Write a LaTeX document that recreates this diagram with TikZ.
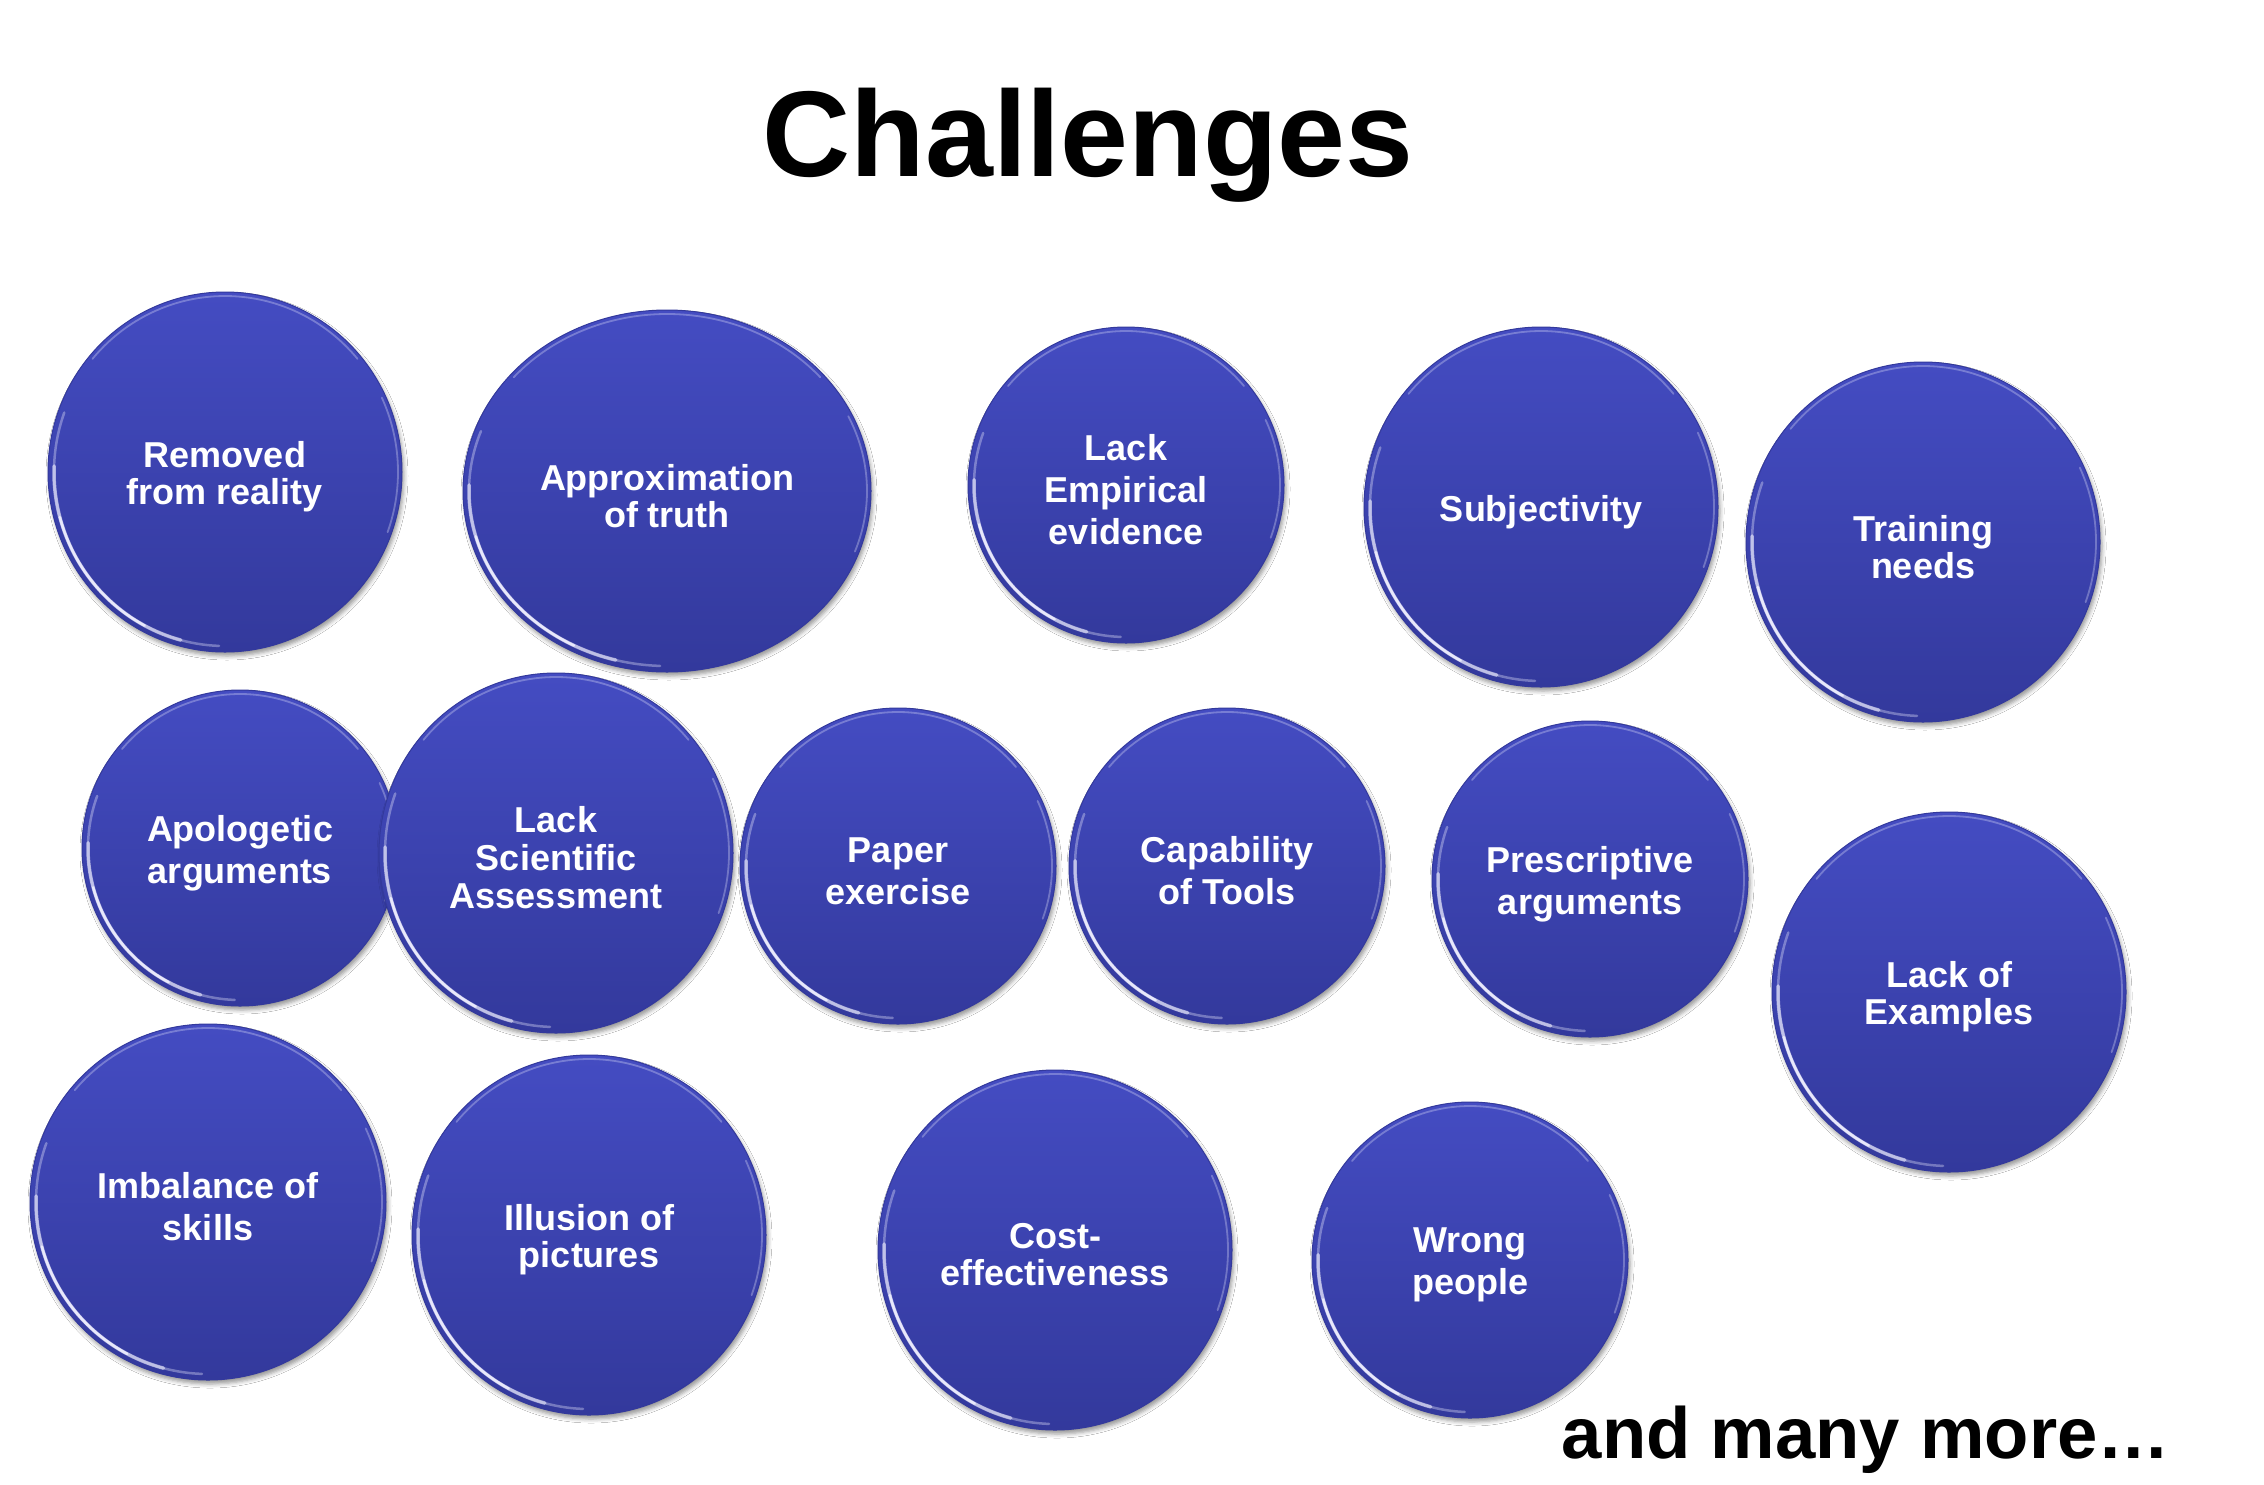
\documentclass[tikz,border=0pt]{standalone}
\usepackage{fontspec}
\setmainfont{Liberation Sans}
\usetikzlibrary{shapes.geometric,shadows.blur}
\definecolor{bubtop}{RGB}{68,76,194}
\definecolor{bubbot}{RGB}{51,57,156}
\definecolor{rimlight}{RGB}{240,240,255}
\tikzset{
  bub/.style={ellipse, inner sep=0pt, top color=bubtop, bottom color=bubbot,
    draw=bubbot, line width=1pt,
    blur shadow={shadow xshift=2pt, shadow yshift=-4pt, shadow opacity=40, shadow blur radius=4pt}},
  bubtext/.style={align=center, text=white, inner sep=0pt, font=\fontsize{36}{#1}\selectfont\bfseries},
  rim/.style={rimlight, line cap=round},
  titletext/.style={font=\fontsize{122}{146}\selectfont\bfseries, text=black, inner sep=0pt},
  moretext/.style={font=\fontsize{72.5}{80}\selectfont\bfseries, text=black, inner sep=0pt}
}
% #1 name, #2 x, #3 y, #4 rx, #5 ry, #6 line spacing, #7 text
\newcommand\challengebubble[7]{%
  \node[bub, minimum width={2*#4}, minimum height={2*#5}] (#1) at (#2,#3) {};
  \draw[rim, opacity=0.35, line width=2.5pt] (#2,#3) ++(92:{#4-6} and {#5-6}) arc[start angle=92, end angle=200, x radius={#4-6}, y radius={#5-6}];
  \draw[rim, opacity=0.6, line width=3.5pt] (#2,#3) ++(105:{#4-6} and {#5-6}) arc[start angle=105, end angle=182, x radius={#4-6}, y radius={#5-6}];
  \draw[rim, opacity=0.85, line width=2.5pt] (#2,#3) ++(118:{#4-6} and {#5-6}) arc[start angle=118, end angle=165, x radius={#4-6}, y radius={#5-6}];
  \draw[rim, opacity=0.30, line width=1.8pt] (#2,#3) ++(220:{#4-4} and {#5-4}) arc[start angle=220, end angle=320, x radius={#4-4}, y radius={#5-4}];
  \draw[rim, opacity=0.30, line width=1.8pt] (#2,#3) ++(335:{#4-4} and {#5-4}) arc[start angle=335, end angle=380, x radius={#4-4}, y radius={#5-4}];
  \node[bubtext=#6] (#1-text) at ([yshift=-5pt]#1.center) {#7};
}
\begin{document}
\begin{tikzpicture}[x=1pt,y=-1pt]
\fill[white] (0,0) rectangle (2264,1484);
\useasboundingbox (0,0) rectangle (2264,1484);

\node[titletext, anchor=base] (title) at (1088,176) {Challenges};

\challengebubble{removed}{225}{472}{177}{180}{37}{Removed\\from reality}
\challengebubble{approx}{667}{491}{204}{181}{37}{Approximation\\of truth}
\challengebubble{empirical}{1126}{485}{158}{158}{42}{Lack\\Empirical\\evidence}
\challengebubble{subjectivity}{1541}{507}{177}{180}{37}{Subjectivity}
\challengebubble{training}{1923}{542}{177}{180}{37}{Training\\needs}

\challengebubble{apologetic}{240}{848}{158}{158}{42}{Apologetic\\arguments}
\challengebubble{scientific}{556}{853}{177}{180}{38}{Lack\\Scientific\\Assessment}
\challengebubble{paper}{898}{866}{158}{158}{42}{Paper\\exercise}
\challengebubble{capability}{1227}{866}{158}{158}{42}{Capability\\of Tools}
\challengebubble{prescriptive}{1590}{879}{158}{158}{42}{Prescriptive\\arguments}
\challengebubble{examples}{1949}{992}{177}{180}{37}{Lack of\\Examples}

\challengebubble{imbalance}{208}{1202}{178}{178}{42}{Imbalance of\\skills}
\challengebubble{illusion}{589}{1235}{177}{180}{37}{Illusion of\\pictures}
\challengebubble{cost}{1055}{1250}{177}{180}{37}{Cost-\\effectiveness}
\challengebubble{wrong}{1470}{1260}{158}{158}{42}{Wrong\\people}

\node[moretext, anchor=base] (more) at (1866,1458) {and many more…};
\end{tikzpicture}
\end{document}
